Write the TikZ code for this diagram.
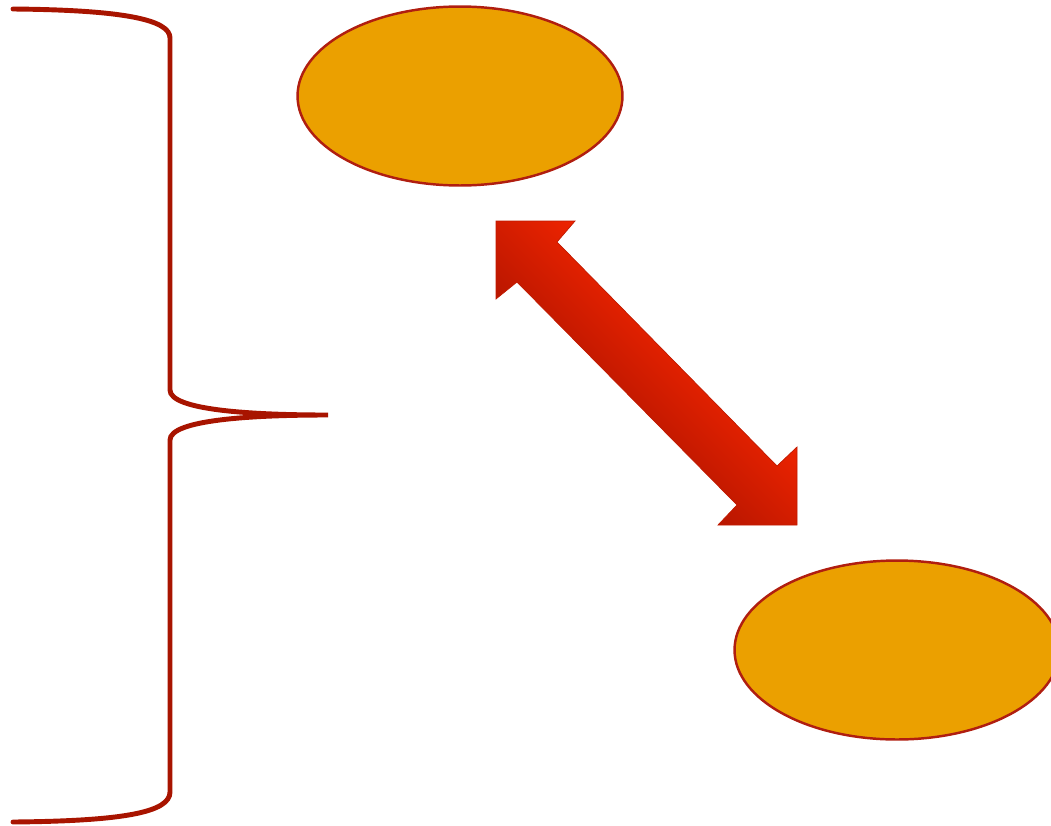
\documentclass[tikz,border=0pt]{standalone}
\usepackage{tikz}
\usetikzlibrary{shapes.geometric,calc}

\definecolor{blobfill}{HTML}{EBA000}
\definecolor{blobline}{HTML}{B01E10}
\definecolor{bracered}{HTML}{A81400}
\definecolor{arrowlight}{HTML}{F02400}
\definecolor{arrowdark}{HTML}{B01400}
\definecolor{arrowline}{HTML}{C01A00}

\pgfdeclareverticalshading{arrowshade}{100bp}{color(0bp)=(arrowdark); color(38bp)=(arrowdark); color(60bp)=(arrowlight); color(100bp)=(arrowlight)}

\begin{document}
\begin{tikzpicture}[x=0.02cm,y=-0.02cm,
		blob/.style={ellipse,draw=blobline,fill=blobfill,line width=1.4pt,minimum width=6.5cm,minimum height=3.58cm,inner sep=0pt},
		bracket/.style={draw=bracered,line width=2.8pt,line cap=round}]
		\useasboundingbox (0,0) rectangle (1051,825);
		\node[blob] (e_1) at (460,96) {};
		\node[blob] (e_2) at (897,650) {};
		% brace on the left
		\coordinate (b_top) at (13,9);
		\coordinate (b_tip) at (328,415);
		\coordinate (b_bot) at (13,822);
		\path[bracket] (b_top) .. controls (125,10) and (170,20) .. (170,38)
			-- (170,390) .. controls (170,410) and (250,415) .. (b_tip)
			.. controls (250,415) and (170,420) .. (170,440)
			-- (170,792) .. controls (170,812) and (125,821) .. (b_bot);
		% double arrow between the two ellipses
		\coordinate (a_1) at (496,221);
		\coordinate (a_2) at (797,525);
		\shade[shading=arrowshade,shading angle=-45,draw=arrowline,line width=0.4pt]
			(a_1) -- (575,221) -- (557,242) -- (777,466) -- (797,447) -- (a_2)
			-- (718,525) -- (737,505) -- (517,282) -- (496,299) -- cycle;
	\end{tikzpicture}
\end{document}
